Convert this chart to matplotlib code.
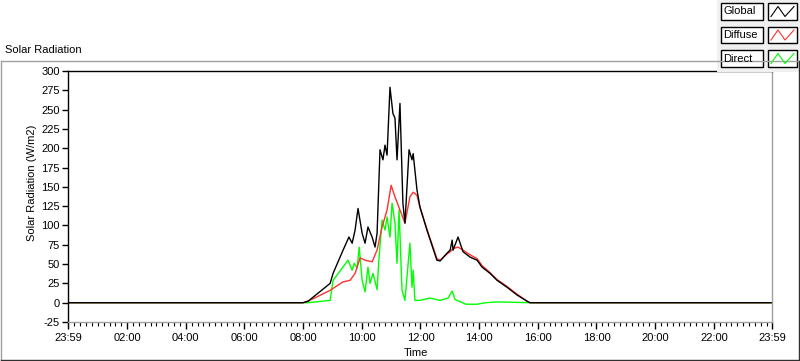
import numpy as np
import matplotlib
matplotlib.use("Agg")
import matplotlib.pyplot as plt
from matplotlib.patches import Rectangle
from matplotlib.lines import Line2D

plt.rcParams['font.family'] = ['Liberation Sans', 'DejaVu Sans']
plt.rcParams['font.size'] = 8
plt.rcParams['axes.unicode_minus'] = False

# time in hours from the left edge (23:59 of the day before)
t_global = [-0.0167, 8.0, 8.17, 8.92, 9.02, 9.36, 9.56, 9.67, 9.77, 9.87, 10.01, 10.11,
            10.21, 10.35, 10.45, 10.52, 10.62, 10.72, 10.79, 10.86, 10.96, 11.06, 11.13,
            11.20, 11.30, 11.40, 11.47, 11.61, 11.71, 11.75, 11.88, 11.98, 12.22, 12.56,
            12.67, 12.90, 13.01, 13.08, 13.11, 13.28, 13.45, 13.69, 13.93, 14.10, 14.37,
            14.61, 14.95, 15.29, 15.63, 15.73, 23.983]
global_rad = [0, 0, 2, 25, 38, 68, 85, 77, 94, 122, 90, 77,
              98, 85, 72, 90, 198, 185, 204, 191, 279, 245, 239,
              185, 258, 129, 103, 198, 185, 193, 146, 124, 94, 55,
              54, 64, 68, 81, 68, 85, 66, 59, 55, 46, 38,
              29, 20, 10, 2, 0, 0]

t_diffuse = [-0.0167, 8.0, 8.17, 8.92, 9.36, 9.60, 9.77, 9.94, 10.11, 10.35, 10.52, 10.69,
             10.86, 11.00, 11.13, 11.30, 11.47, 11.64, 11.75, 11.88, 11.98, 12.22, 12.56,
             12.67, 12.90, 13.01, 13.11, 13.28, 13.45, 13.69, 13.93, 14.10, 14.37, 14.61,
             14.95, 15.29, 15.63, 15.73, 23.983]
diffuse_rad = [0, 0, 2, 16, 27, 29, 38, 58, 55, 53, 68, 98,
               120, 152, 137, 120, 103, 137, 143, 139, 124, 95, 57,
               55, 63, 66, 70, 72, 68, 62, 57, 48, 39, 30,
               21, 11, 2, 0, 0]

t_direct = [-0.0167, 8.17, 8.92, 9.02, 9.53, 9.67, 9.74, 9.84, 9.91, 10.01, 10.11, 10.21,
            10.28, 10.38, 10.52, 10.58, 10.69, 10.79, 10.86, 10.96, 11.03, 11.13, 11.20,
            11.27, 11.37, 11.47, 11.64, 11.71, 11.75, 11.81, 11.98, 12.32, 12.67, 12.94,
            13.08, 13.18, 13.55, 13.93, 14.22, 14.61, 15.73, 23.983]
direct_rad = [0, 0, 3, 29, 55, 42, 51, 45, 72, 29, 14, 46,
              25, 38, 17, 55, 107, 94, 111, 85, 129, 103, 51,
              120, 16, 3, 77, 20, 42, 3, 3, 6, 3, 6,
              15, 4, -2, -2, 0, 1, 0, 0]

tick_pos = [-0.0167, 2, 4, 6, 8, 10, 12, 14, 16, 18, 20, 22, 23.983]
tick_lab = ['23:59', '02:00', '04:00', '06:00', '08:00', '10:00', '12:00',
            '14:00', '16:00', '18:00', '20:00', '22:00', '23:59']
y_ticks = list(range(-25, 301, 25))

W, H = 800, 361
fig = plt.figure(figsize=(W / 100, H / 100), dpi=100)
fig.patch.set_facecolor('white')

def fx(px):
    return px / W

def fy(py):
    return 1 - py / H

# outer panel frame
fig.add_artist(Line2D([fx(1), fx(799)], [fy(61), fy(61)], color='#a0a0a0', lw=1))
fig.add_artist(Line2D([fx(1), fx(1)], [fy(61), fy(360)], color='#a0a0a0', lw=1))
fig.add_artist(Line2D([fx(1), fx(799)], [fy(360), fy(360)], color='#303030', lw=1))
fig.add_artist(Line2D([fx(799), fx(799)], [fy(61), fy(360)], color='#303030', lw=1))
fig.text(fx(5), fy(50), 'Solar Radiation', ha='left', va='center')

ax = fig.add_axes([fx(68), fy(322), fx(772 - 68), fy(71) - fy(322)])
ax.plot(t_direct, direct_rad, color='#00ff00', lw=1.0)
ax.plot(t_diffuse, diffuse_rad, color='#ff3030', lw=1.0)
ax.plot(t_global, global_rad, color='black', lw=1.0)

ax.set_xlim(-0.0167, 23.983)
ax.set_ylim(-25, 300)
ax.set_yticks(y_ticks)
ax.set_xticks(tick_pos)
ax.set_xticklabels(tick_lab)
ax.set_xticks(np.arange(0, 24, 0.2), minor=True)
ax.tick_params(axis='y', length=4, width=1, pad=2)
ax.tick_params(axis='x', which='major', length=5, width=1, pad=3)
ax.tick_params(axis='x', which='minor', length=3, width=0.8)
ax.spines['left'].set_color('black')
ax.spines['top'].set_color('black')
ax.spines['right'].set_color('#a0a0a0')
ax.spines['bottom'].set_color('#a0a0a0')
for s in ax.spines.values():
    s.set_linewidth(1)
ax.set_ylabel('Solar Radiation (W/m2)')
ax.set_xlabel('Time')
ax.yaxis.set_label_coords((32 - 68) / 704, (322 - 183) / 251)
ax.yaxis.label.set_va('center')
ax.yaxis.label.set_ha('center')
ax.xaxis.set_label_coords((416 - 68) / 704, (322 - 353) / 251)
ax.xaxis.label.set_va('center')

# legend panel
fig.add_artist(Rectangle((fx(717), fy(72)), fx(83), fy(0) - fy(72),
                         facecolor='#f0f0f0', edgecolor='none'))
names = ['Global', 'Diffuse', 'Direct']
colors = ['black', '#ff3030', '#00ff00']
rows = [3.5, 27, 50.5]
for name, col, top in zip(names, colors, rows):
    fig.add_artist(Rectangle((fx(721), fy(top + 16)), fx(42), fy(top) - fy(top + 16),
                             facecolor='white', edgecolor='black', lw=1))
    fig.text(fx(723), fy(top + 8), name, ha='left', va='center')
    fig.add_artist(Rectangle((fx(768), fy(top + 16)), fx(29), fy(top) - fy(top + 16),
                             facecolor='white', edgecolor='black', lw=1))
    zx = [771, 778, 785, 794]
    zy = [top + 13, top + 3, top + 13, top + 3]
    fig.add_artist(Line2D([fx(v) for v in zx], [fy(v) for v in zy], color=col, lw=0.8))

fig.savefig('out.png', dpi=100)
